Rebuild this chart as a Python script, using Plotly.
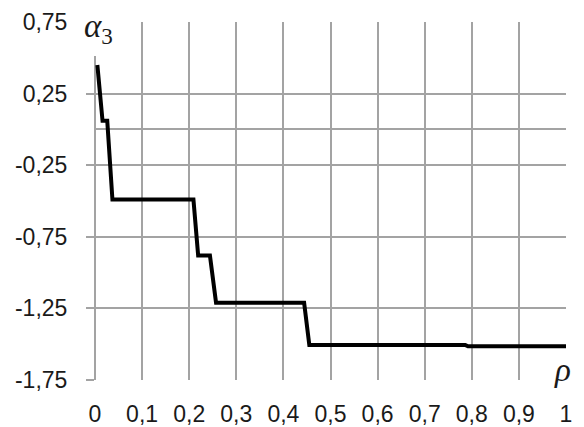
import plotly.graph_objects as go

rho = [0.005, 0.016, 0.026, 0.037, 0.209, 0.219, 0.244, 0.257, 0.444, 0.455, 0.786, 0.792, 1.0]
alpha3 = [0.45, 0.06, 0.06, -0.49, -0.49, -0.88, -0.88, -1.21, -1.21, -1.505, -1.505, -1.515, -1.515]

x_ticks = [0, 0.1, 0.2, 0.3, 0.4, 0.5, 0.6, 0.7, 0.8, 0.9, 1.0]
x_labels = ["0", "0,1", "0,2", "0,3", "0,4", "0,5", "0,6", "0,7", "0,8", "0,9", "1"]
y_ticks = [0.75, 0.25, -0.25, -0.75, -1.25, -1.75]
y_labels = ["0,75", "0,25", "-0,25", "-0,75", "-1,25", "-1,75"]

GRID = "#a3a3a3"
FONT = dict(family="Liberation Sans, Arial, sans-serif", size=23, color="#1a1a1a")

fig = go.Figure()
fig.add_trace(go.Scatter(x=rho, y=alpha3, mode="lines",
                         line=dict(color="black", width=4), showlegend=False,
                         cliponaxis=False))

fig.update_layout(
    width=584, height=427,
    margin=dict(l=95, r=18, t=22, b=47),
    paper_bgcolor="white", plot_bgcolor="white",
    font=FONT,
    xaxis=dict(range=[0, 1], tickvals=x_ticks, ticktext=x_labels, automargin=False,
               showgrid=True, gridcolor=GRID, gridwidth=1.5,
               zeroline=True, zerolinecolor=GRID, zerolinewidth=1.5,
               showline=False, ticks="", ticklabelstandoff=18, tickfont=FONT),
    yaxis=dict(range=[-1.75, 0.75], tickvals=y_ticks, ticktext=y_labels, automargin=False,
               showgrid=True, gridcolor=GRID, gridwidth=1.5,
               zeroline=True, zerolinecolor=GRID, zerolinewidth=1.5,
               showline=False, ticks="outside", ticklen=8, tickcolor=GRID, tickwidth=1.5,
               ticklabelstandoff=14, tickfont=FONT),
    shapes=[
        dict(type="rect", xref="paper", yref="paper", x0=-0.035, x1=0.057, y0=0.905, y1=1.05,
             fillcolor="white", line=dict(width=0), layer="above"),
        dict(type="rect", xref="paper", yref="paper", x0=0.964, x1=1.05, y0=0.075, y1=-0.034,
             fillcolor="white", line=dict(width=0), layer="above"),
    ],
    annotations=[
        dict(text="<i>α</i><sub>3</sub>", xref="paper", yref="paper", x=-0.027, y=1.045,
             xanchor="left", yanchor="top", showarrow=False,
             font=dict(family="Liberation Serif, serif", size=33, color="#1a1a1a")),
        dict(text="<i>ρ</i>", xref="paper", yref="paper", x=0.993, y=0.085,
             xanchor="center", yanchor="top", showarrow=False,
             font=dict(family="Liberation Serif, serif", size=33, color="#1a1a1a")),
    ],
)

fig.write_html("out.html", config={"displayModeBar": False},
               post_script="document.body.style.margin='0';")
